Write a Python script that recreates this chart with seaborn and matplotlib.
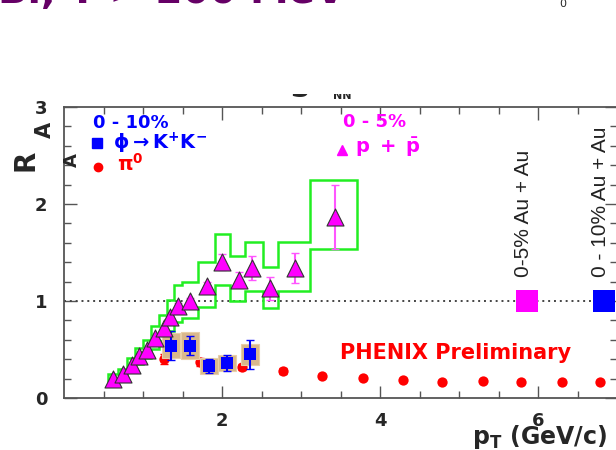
import numpy as np
import pandas as pd
import matplotlib
matplotlib.use("Agg")
import matplotlib.pyplot as plt
from matplotlib.lines import Line2D
from matplotlib.transforms import Bbox
import seaborn as sns

# ---------------- data ----------------
p_pt = [0.62, 0.75, 0.86, 0.95, 1.055, 1.15, 1.26, 1.34, 1.44, 1.60, 1.81, 2.00, 2.21, 2.38, 2.61, 2.92, 3.43]
p_raa = [0.20, 0.25, 0.34, 0.43, 0.50, 0.62, 0.72, 0.84, 0.95, 1.00, 1.15, 1.40, 1.22, 1.34, 1.13, 1.34, 1.87]
p_stat = [0.01, 0.01, 0.01, 0.01, 0.015, 0.02, 0.02, 0.02, 0.03, 0.03, 0.05, 0.08, 0.08, 0.12, 0.12, 0.15, 0.33]
p_sys_hi = [0.25, 0.30, 0.41, 0.52, 0.60, 0.74, 0.86, 1.01, 1.16, 1.20, 1.40, 1.69, 1.46, 1.61, 1.35, 1.61, 2.25]
p_sys_lo = [0.17, 0.20, 0.28, 0.35, 0.41, 0.51, 0.59, 0.69, 0.78, 0.82, 0.94, 1.16, 1.00, 1.10, 0.93, 1.10, 1.54]
p_edges = [0.56, 0.685, 0.80, 0.905, 1.0, 1.10, 1.205, 1.30, 1.39, 1.49, 1.70, 1.91, 2.10, 2.29, 2.52, 2.71, 3.11, 3.71]

phi_pt = [1.35, 1.60, 1.84, 2.06, 2.35]
phi_raa = [0.54, 0.54, 0.33, 0.36, 0.45]
phi_stat = [0.15, 0.10, 0.075, 0.08, 0.15]
phi_sys = [0.13, 0.14, 0.085, 0.085, 0.11]

pi0_pt = [1.26, 1.72, 2.25, 2.77, 3.26, 3.78, 4.29, 4.78, 5.30, 5.79, 6.30, 6.78]
pi0_raa = [0.40, 0.37, 0.32, 0.28, 0.23, 0.21, 0.19, 0.17, 0.18, 0.17, 0.16, 0.17]
pi0_err = [0.05, 0.04, 0.03, 0.03, 0.02, 0.015, 0.015, 0.015, 0.015, 0.015, 0.015, 0.015]

norm_x = [5.865, 6.84]
norm_err = [0.11, 0.11]
norm_labels = ["0-5% Au + Au", "0 - 10% Au + Au"]

x_major = [2, 4, 6]
x_minor = [0.5, 1.0, 1.5, 2.5, 3.0, 3.5, 4.5, 5.0, 5.5, 6.5]
y_major = [0, 1, 2, 3]
y_minor = [0.2, 0.4, 0.6, 0.8, 1.2, 1.4, 1.6, 1.8, 2.2, 2.4, 2.6, 2.8]

# ---------------- style ----------------
sns.set_theme(style="ticks")
plt.rcParams['font.family'] = ['DejaVu Sans']
plt.rcParams['mathtext.fontset'] = 'dejavusans'

BLUE = "#0000ff"
RED = "#ff0000"
MAG = "#ff00ff"
GREEN = "#22ee22"
TAN = "#d9b88c"
PURPLE = "#660066"

W, H = 616, 450
fig = plt.figure(figsize=(W / 100, H / 100), dpi=100)
fig.patch.set_facecolor("white")

def fx(px):
    return px / W

def fy(py):
    return 1 - py / H

ax = fig.add_axes([fx(64), fy(398), (617 - 64) / W, (398 - 107) / H])
ax.set_facecolor("white")
ax.set_xlim(0, 7.0)
ax.set_ylim(0, 3)

# reference line
ax.axhline(1.0, color="#444444", ls=(0, (1, 2)), lw=1.4, zorder=1)

# proton systematic band (outline)
ax.stairs(p_sys_hi, p_edges, baseline=p_sys_lo, fill=False, color=GREEN, lw=1.8, zorder=2)

# pi0
df_pi0 = pd.DataFrame({"pt": pi0_pt, "raa": pi0_raa})
ax.errorbar(pi0_pt, pi0_raa, yerr=pi0_err, fmt="none", ecolor=RED, elinewidth=1.2,
            capsize=3, zorder=3)
sns.scatterplot(data=df_pi0, x="pt", y="raa", ax=ax, marker="o", s=55, color=RED,
                edgecolor=RED, linewidth=0, zorder=4, legend=False)

# phi systematic boxes
ax.bar(phi_pt, [2 * s for s in phi_sys], bottom=[y - s for y, s in zip(phi_raa, phi_sys)],
       width=0.23, color=TAN, edgecolor="#e8cfa8", linewidth=0.8, zorder=5)
ax.errorbar(phi_pt, phi_raa, yerr=phi_stat, fmt="none", ecolor=BLUE, elinewidth=1.5,
            capsize=3, zorder=6)
df_phi = pd.DataFrame({"pt": phi_pt, "raa": phi_raa})
sns.scatterplot(data=df_phi, x="pt", y="raa", ax=ax, marker="s", s=85, color=BLUE,
                edgecolor=BLUE, linewidth=0, zorder=7, legend=False)

# protons
ax.errorbar(p_pt, p_raa, yerr=p_stat, fmt="none", ecolor="#ff55ff", elinewidth=1.5,
            capsize=3, zorder=8)
df_p = pd.DataFrame({"pt": p_pt, "raa": p_raa})
sns.scatterplot(data=df_p, x="pt", y="raa", ax=ax, marker="^", s=150, color=MAG,
                edgecolor="#333333", linewidth=0.8, zorder=9, legend=False)

# normalisation boxes
ax.bar(norm_x, [2 * e for e in norm_err], bottom=[1 - e for e in norm_err], width=0.28,
       color=[MAG, BLUE], linewidth=0, zorder=9)

# axes styling
for sp in ax.spines.values():
    sp.set_visible(True)
    sp.set_color("#555555")
    sp.set_linewidth(1.3)
ax.set_xticks(x_major)
ax.set_xticks(x_minor, minor=True)
ax.set_yticks(y_major)
ax.set_yticks(y_minor, minor=True)
ax.set_xticklabels([str(v) for v in x_major], fontsize=13, fontweight="bold")
ax.set_yticklabels([str(v) for v in y_major], fontsize=13, fontweight="bold")
ax.tick_params(which="both", direction="in", top=True, right=True, color="#555555", width=1)
ax.tick_params(which="major", length=9)
ax.tick_params(which="minor", length=5)
ax.tick_params(axis="x", which="major", pad=10)
ax.tick_params(axis="y", which="major", pad=12)
ax.set_xlabel("")
ax.set_ylabel("")

# rotated normalisation labels
for xv, lab in zip(norm_x, norm_labels):
    ax.text(xv - 0.05, 1.25, lab, rotation=90, ha="center", va="bottom",
            fontsize=15, family=["Liberation Sans"], color="#222222",
            zorder=10, clip_on=False)

# legend-like texts
fig.text(fx(131), fy(123), "0 - 10%", color=BLUE, fontsize=13, fontweight="bold",
         ha="center", va="center")
fig.add_artist(Line2D([fx(97)], [fy(143)], marker="s", ms=7, color=BLUE, ls="none",
                      transform=fig.transFigure))
fig.text(fx(113), fy(143), r"$\mathbf{\phi \rightarrow K^{+}K^{-}}$", color=BLUE,
         fontsize=14, ha="left", va="center")
fig.add_artist(Line2D([fx(98)], [fy(167)], marker="o", ms=6, color=RED, ls="none",
                      transform=fig.transFigure))
fig.text(fx(117), fy(164), r"$\mathbf{\pi^{0}}$", color=RED, fontsize=14,
         ha="left", va="center")
fig.text(fx(375), fy(122), "0 - 5%", color=MAG, fontsize=13, fontweight="bold",
         ha="center", va="center")
fig.add_artist(Line2D([fx(342)], [fy(150)], marker="^", ms=7, color=MAG, ls="none",
                      transform=fig.transFigure))
fig.text(fx(355), fy(147), r"$\mathbf{p\ +\ \bar{p}}$", color=MAG, fontsize=14,
         ha="left", va="center")
fig.text(fx(340), fy(353), "PHENIX Preliminary", color=RED, fontsize=15,
         fontweight="bold", ha="left", va="center")

# axis labels
fig.text(fx(25), fy(160), "R", rotation=90, fontsize=20, fontweight="bold",
         ha="center", va="center")
fig.text(fx(45), fy(130), "A", rotation=90, fontsize=15, fontweight="bold",
         ha="center", va="center")
fig.text(fx(72), fy(160), "A", rotation=90, fontsize=13, fontweight="bold",
         ha="center", va="center")
fig.text(fx(472), fy(437), r"$\mathbf{p_T}$ (GeV/c)", fontsize=17, fontweight="bold",
         ha="left", va="center")

# clipped slide text at the top
fig.text(fx(345), fy(3), "Bi, T > 200 MeV", color=PURPLE, fontsize=28,
         fontweight="bold", ha="right", va="baseline")
fig.text(fx(563), fy(4), "0", fontsize=8, ha="center", va="center")
clip = Bbox([[0, H - 107], [W, H - 94]])
t1 = fig.text(fx(300), fy(97), "s", fontsize=22, fontweight="bold", ha="center",
              va="baseline")
t2 = fig.text(fx(342), fy(99), "NN", fontsize=8, fontweight="bold", ha="center",
              va="baseline")
for t in (t1, t2):
    t.set_clip_box(clip)
    t.set_clip_on(True)

fig.savefig("out.png", dpi=100)
